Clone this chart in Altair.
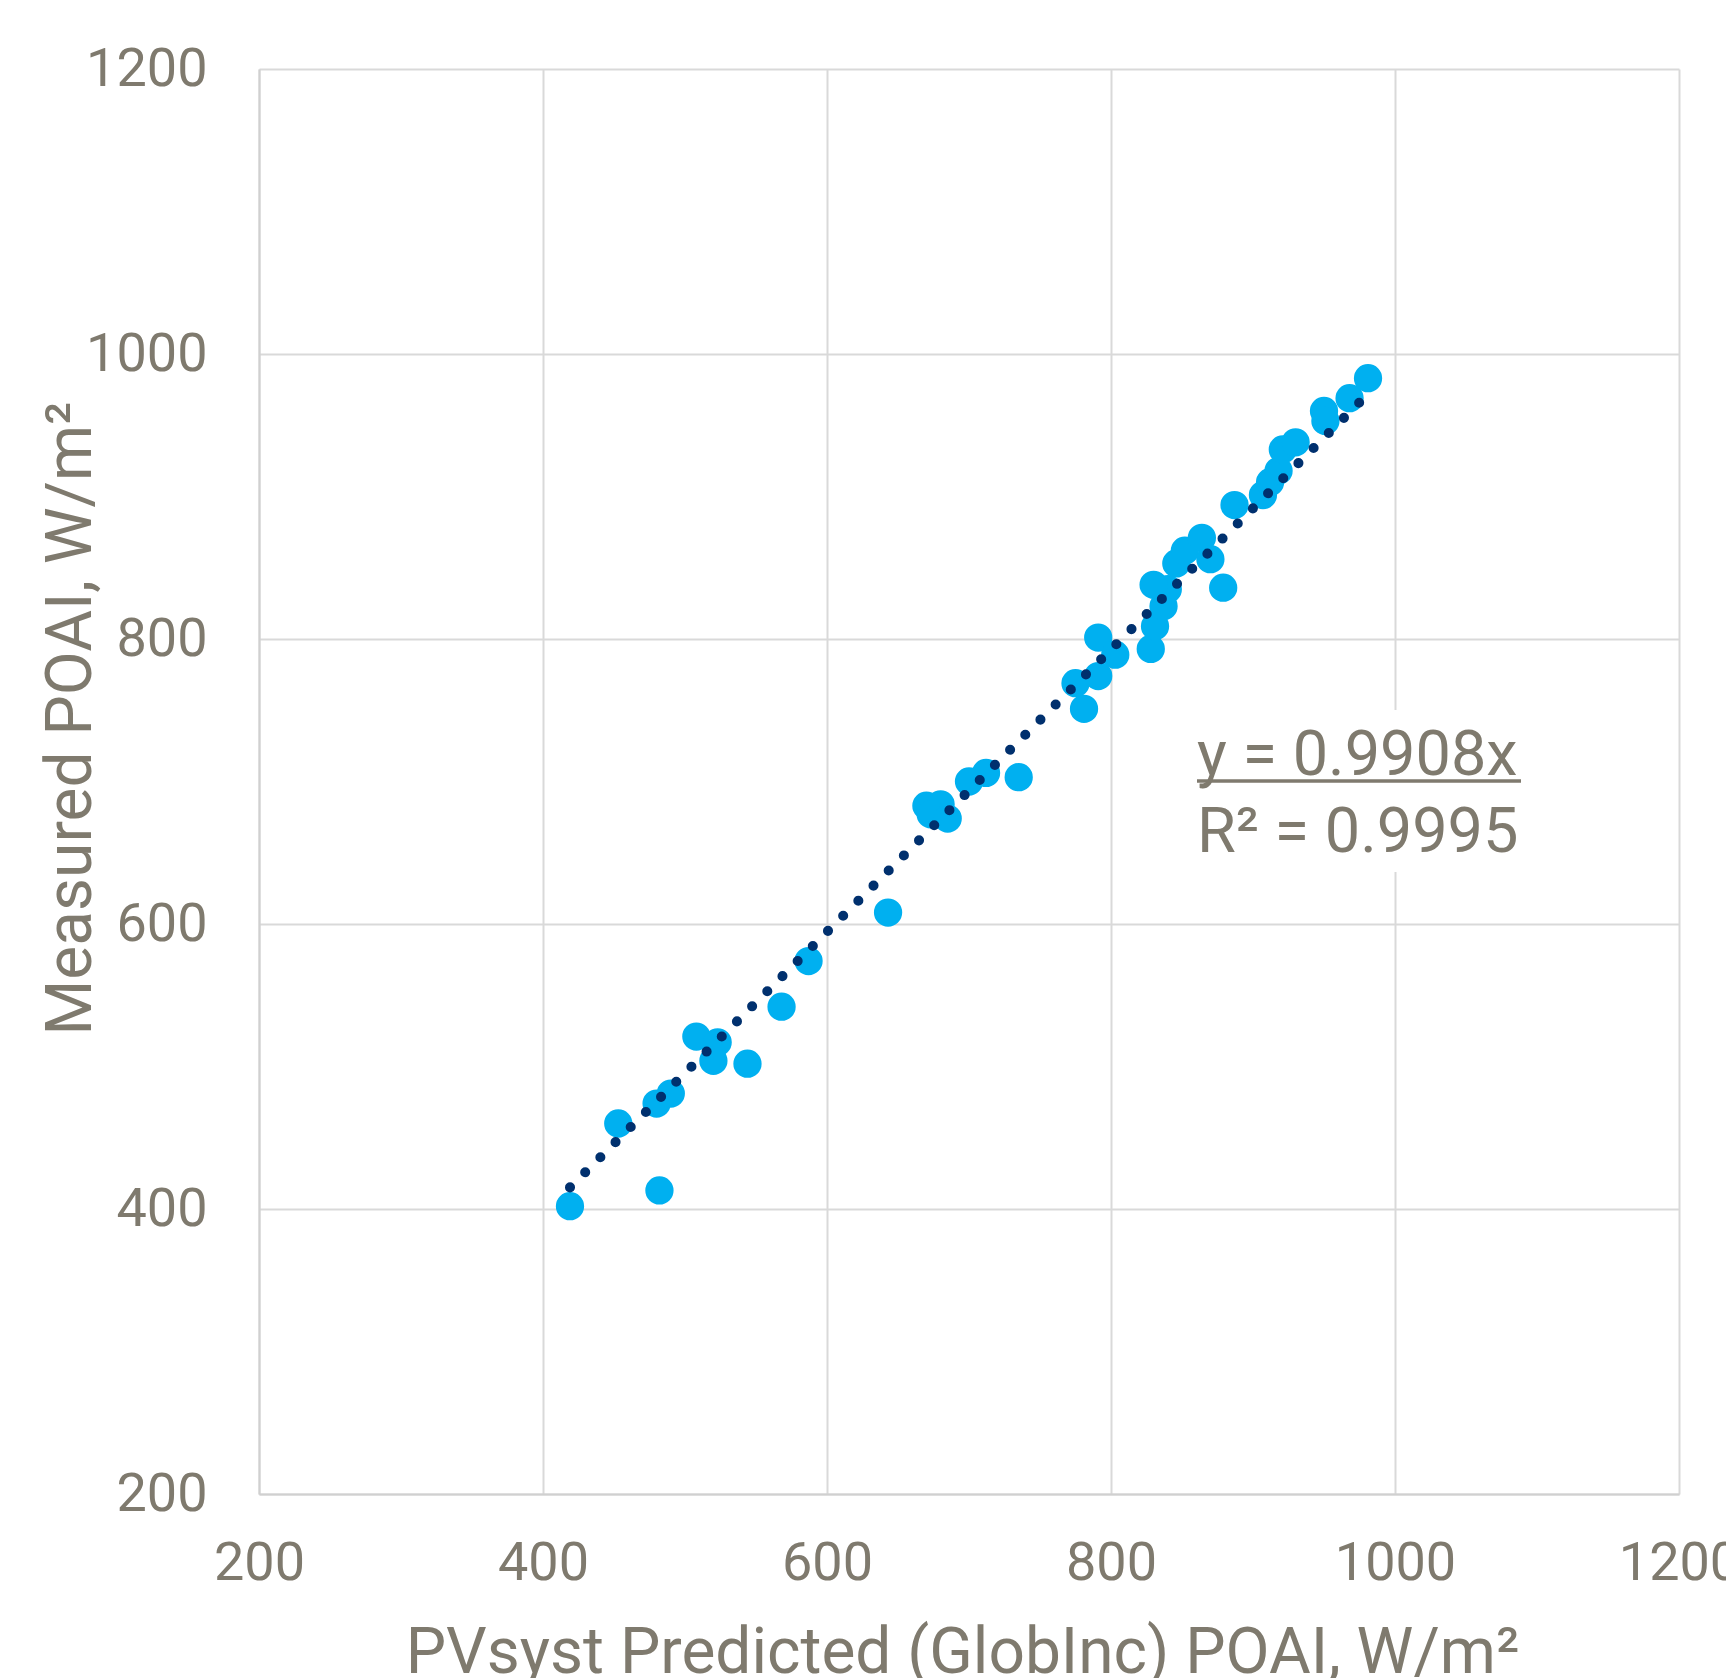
import altair as alt
import pandas as pd

# PVsyst predicted POAI (x) vs measured POAI (y), W/m²
x_pred = [419, 482, 453, 480, 490, 508, 523, 520, 544, 568, 587, 643,
          670, 680, 673, 685, 700, 712, 735,
          775, 781, 791, 791, 803, 828, 831, 837, 840, 830, 846, 852, 864,
          870, 879, 887, 907, 912, 918, 921, 930, 950, 951, 968, 981]
y_meas = [402, 413, 460, 474, 481, 521, 517, 504, 502, 542, 574, 608,
          683, 684, 677, 674, 700, 706, 703,
          769, 751, 774, 801, 789, 793, 809, 823, 835, 838, 853, 862, 871,
          856, 836, 894, 901, 910, 918, 933, 938, 960, 953, 969, 983]

SLOPE = [0.9908]
eq_labels = ["y = 0.9908x", "R² = 0.9995"]
tick_values = [200, 400, 600, 800, 1000, 1200]

TEXT = "#7f7a6e"
GRID = "#d9d9d9"

df = pd.DataFrame({"x": x_pred, "y": y_meas})
xs = [min(x_pred), max(x_pred)]
trend = pd.DataFrame({"x": xs, "y": [SLOPE[0] * v for v in xs]})

xscale = alt.Scale(domain=[200, 1200], nice=False, zero=False)
yscale = alt.Scale(domain=[200, 1200], nice=False, zero=False)

common = dict(values=tick_values, format="d", ticks=False, tickSize=0,
              labelFontSize=54, titleFontSize=64, labelFont="Roboto",
              titleFont="Roboto", labelColor=TEXT, titleColor=TEXT,
              titleFontWeight="normal", gridColor=GRID, gridWidth=2,
              domainColor="#d0d0d0", domainWidth=2,
              labelFlush=False, labelOverlap=False)

xaxis = alt.Axis(title="PVsyst Predicted (GlobInc) POAI, W/m²", titleX=703,
                 titleY=178, titleBaseline="alphabetic", titleAlign="center",
                 labelPadding=42, **common)
yaxis = alt.Axis(title="Measured POAI, W/m²", titleX=-169, titleY=649,
                 titleAngle=270, titleBaseline="alphabetic", titleAlign="center",
                 labelPadding=52, **common)

points = alt.Chart(df).mark_circle(size=800, opacity=1, color="#00b0f0").encode(
    x=alt.X("x:Q", scale=xscale, axis=xaxis),
    y=alt.Y("y:Q", scale=yscale, axis=yaxis),
)

line = alt.Chart(trend).mark_line(
    color="#00306e", strokeWidth=10, strokeCap="round", strokeDash=[0.1, 21.3]
).encode(x=alt.X("x:Q", scale=xscale), y=alt.Y("y:Q", scale=yscale))

one = pd.DataFrame({"k": [0]})
box = alt.Chart(one).mark_rect(color="white").encode(
    x=alt.value(930), x2=alt.value(1274), y=alt.value(641), y2=alt.value(803))
t1 = alt.Chart(one).mark_text(align="left", baseline="alphabetic", fontSize=63,
                              font="Roboto", color=TEXT, text=eq_labels[0]).encode(
    x=alt.value(938), y=alt.value(706))
t2 = alt.Chart(one).mark_text(align="left", baseline="alphabetic", fontSize=63,
                              font="Roboto", color=TEXT, text=eq_labels[1]).encode(
    x=alt.value(938), y=alt.value(783))
underline = alt.Chart(one).mark_rule(color=TEXT, strokeWidth=3.3).encode(
    x=alt.value(938), x2=alt.value(1262), y=alt.value(712))

chart = alt.layer(points, line, box, t1, t2, underline).properties(
    width=1420, height=1425,
    autosize=alt.AutoSizeParams(type="none"),
    padding={"left": 251, "top": 61, "right": 47, "bottom": 184},
    background="white",
).configure_view(strokeWidth=0)

chart.save("out.html", embed_options={"renderer": "svg", "actions": False})
